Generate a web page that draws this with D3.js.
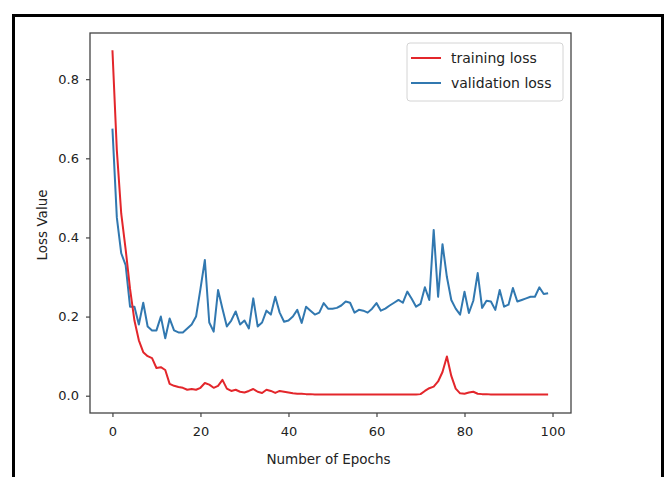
<!DOCTYPE html>
<html>
<head>
<meta charset="utf-8">
<script src="https://cdn.jsdelivr.net/npm/d3@7"></script>
<style>
body{margin:0;background:#fff;}
text{font-family:"DejaVu Sans",sans-serif;fill:#222;}
</style>
</head>
<body>
<div id="chart"></div>
<script>

// epochs 0..99
const epochs = d3.range(0,100)

const trainingLoss = [
0.873,0.62,0.46,0.37,0.27,0.19,0.14,0.11,0.10,0.095,
0.07,0.072,0.065,0.03,0.025,0.022,0.02,0.015,0.017,0.015,
0.02,0.032,0.028,0.02,0.025,0.04,0.018,0.012,0.015,0.01,
0.008,0.012,0.017,0.01,0.007,0.015,0.012,0.007,0.012,0.01,
0.008,0.006,0.005,0.005,0.004,0.004,0.003,0.003,0.003,0.003,
0.003,0.003,0.003,0.003,0.003,0.003,0.003,0.003,0.003,0.003,
0.003,0.003,0.003,0.003,0.003,0.003,0.003,0.003,0.003,0.003,
0.004,0.012,0.019,0.023,0.036,0.06,0.099,0.05,0.018,0.006,
0.005,0.008,0.01,0.005,0.004,0.004,0.003,0.003,0.003,0.003,
0.003,0.003,0.003,0.003,0.003,0.003,0.003,0.003,0.003,0.003
]

const validationLoss = [
0.675,0.45,0.36,0.33,0.225,0.225,0.18,0.235,0.175,0.165,
0.165,0.2,0.145,0.195,0.165,0.16,0.16,0.17,0.18,0.2,
0.27,0.343,0.185,0.162,0.267,0.22,0.175,0.19,0.213,0.18,
0.19,0.17,0.246,0.175,0.185,0.215,0.205,0.25,0.21,0.187,
0.19,0.2,0.217,0.184,0.225,0.215,0.205,0.21,0.234,0.22,
0.22,0.222,0.228,0.238,0.235,0.21,0.217,0.215,0.21,0.22,
0.234,0.215,0.22,0.228,0.235,0.242,0.235,0.263,0.245,0.225,
0.232,0.274,0.242,0.419,0.25,0.383,0.3,0.242,0.22,0.205,
0.263,0.209,0.24,0.31,0.222,0.24,0.238,0.217,0.267,0.225,
0.23,0.272,0.238,0.242,0.246,0.25,0.25,0.274,0.257,0.259
]

const xTicks = [0,20,40,60,80,100]
const yTicks = [0.0,0.2,0.4,0.6,0.8]

const seriesNames = ["training loss","validation loss"]
const seriesColors = ["#e3262b","#3178b0"]

const width = 670
const height = 477

const svg = d3.select("#chart")
.append("svg")
.attr("width",width)
.attr("height",height)

// outer frame
svg.append("rect")
.attr("x",13.5)
.attr("y",15.5)
.attr("width",649)
.attr("height",480)
.attr("fill","none")
.attr("stroke","#000")
.attr("stroke-width",3)

const plotLeft = 90, plotRight = 571, plotTop = 33, plotBottom = 413

const x = d3.scaleLinear().domain([-5.1,104.2]).range([plotLeft,plotRight])
const y = d3.scaleLinear().domain([-0.0437,0.9167]).range([plotBottom,plotTop])

// axes box
svg.append("rect")
.attr("x",plotLeft)
.attr("y",plotTop)
.attr("width",plotRight-plotLeft)
.attr("height",plotBottom-plotTop)
.attr("fill","none")
.attr("stroke","#444")
.attr("stroke-width",1.3)

const xAxis = svg.append("g")
.attr("transform","translate(0,"+plotBottom+")")
.call(d3.axisBottom(x).tickValues(xTicks).tickSize(4).tickPadding(10).tickFormat(d3.format("d")))

const yAxis = svg.append("g")
.attr("transform","translate("+plotLeft+",0)")
.call(d3.axisLeft(y).tickValues(yTicks).tickSize(4).tickPadding(7).tickFormat(d3.format(".1f")))

xAxis.select(".domain").remove()
yAxis.select(".domain").remove()

svg.selectAll(".tick line").attr("stroke","#444").attr("stroke-width",1.2)
svg.selectAll(".tick text").attr("font-size","13px").attr("fill","#222").attr("font-family","DejaVu Sans")

svg.append("text")
.attr("x",(plotLeft+plotRight)/2 - 2)
.attr("y",464)
.attr("text-anchor","middle")
.attr("font-size","13.5px")
.text("Number of Epochs")

svg.append("text")
.attr("transform","translate(47,225) rotate(-90)")
.attr("text-anchor","middle")
.attr("font-size","13.5px")
.text("Loss Value")

const line = d3.line()
.x((d,i)=>x(epochs[i]))
.y(d=>y(d))

svg.append("path")
.datum(validationLoss)
.attr("d",line)
.attr("fill","none")
.attr("stroke",seriesColors[1])
.attr("stroke-width",2)
.attr("stroke-linejoin","round")

svg.append("path")
.datum(trainingLoss)
.attr("d",line)
.attr("fill","none")
.attr("stroke",seriesColors[0])
.attr("stroke-width",2)
.attr("stroke-linejoin","round")

// legend
const legend = svg.append("g")

legend.append("rect")
.attr("x",407)
.attr("y",43)
.attr("width",156)
.attr("height",58)
.attr("rx",3)
.attr("fill","#fff")
.attr("stroke","#d4d4d4")
.attr("stroke-width",1)

seriesNames.forEach((name,i)=>{

const ly = 58 + i*25

legend.append("line")
.attr("x1",411)
.attr("x2",441)
.attr("y1",ly)
.attr("y2",ly)
.attr("stroke",seriesColors[i])
.attr("stroke-width",2)

legend.append("text")
.attr("x",451)
.attr("y",ly+5)
.attr("font-size","14px")
.text(name)

})

</script>
</body>
</html>
